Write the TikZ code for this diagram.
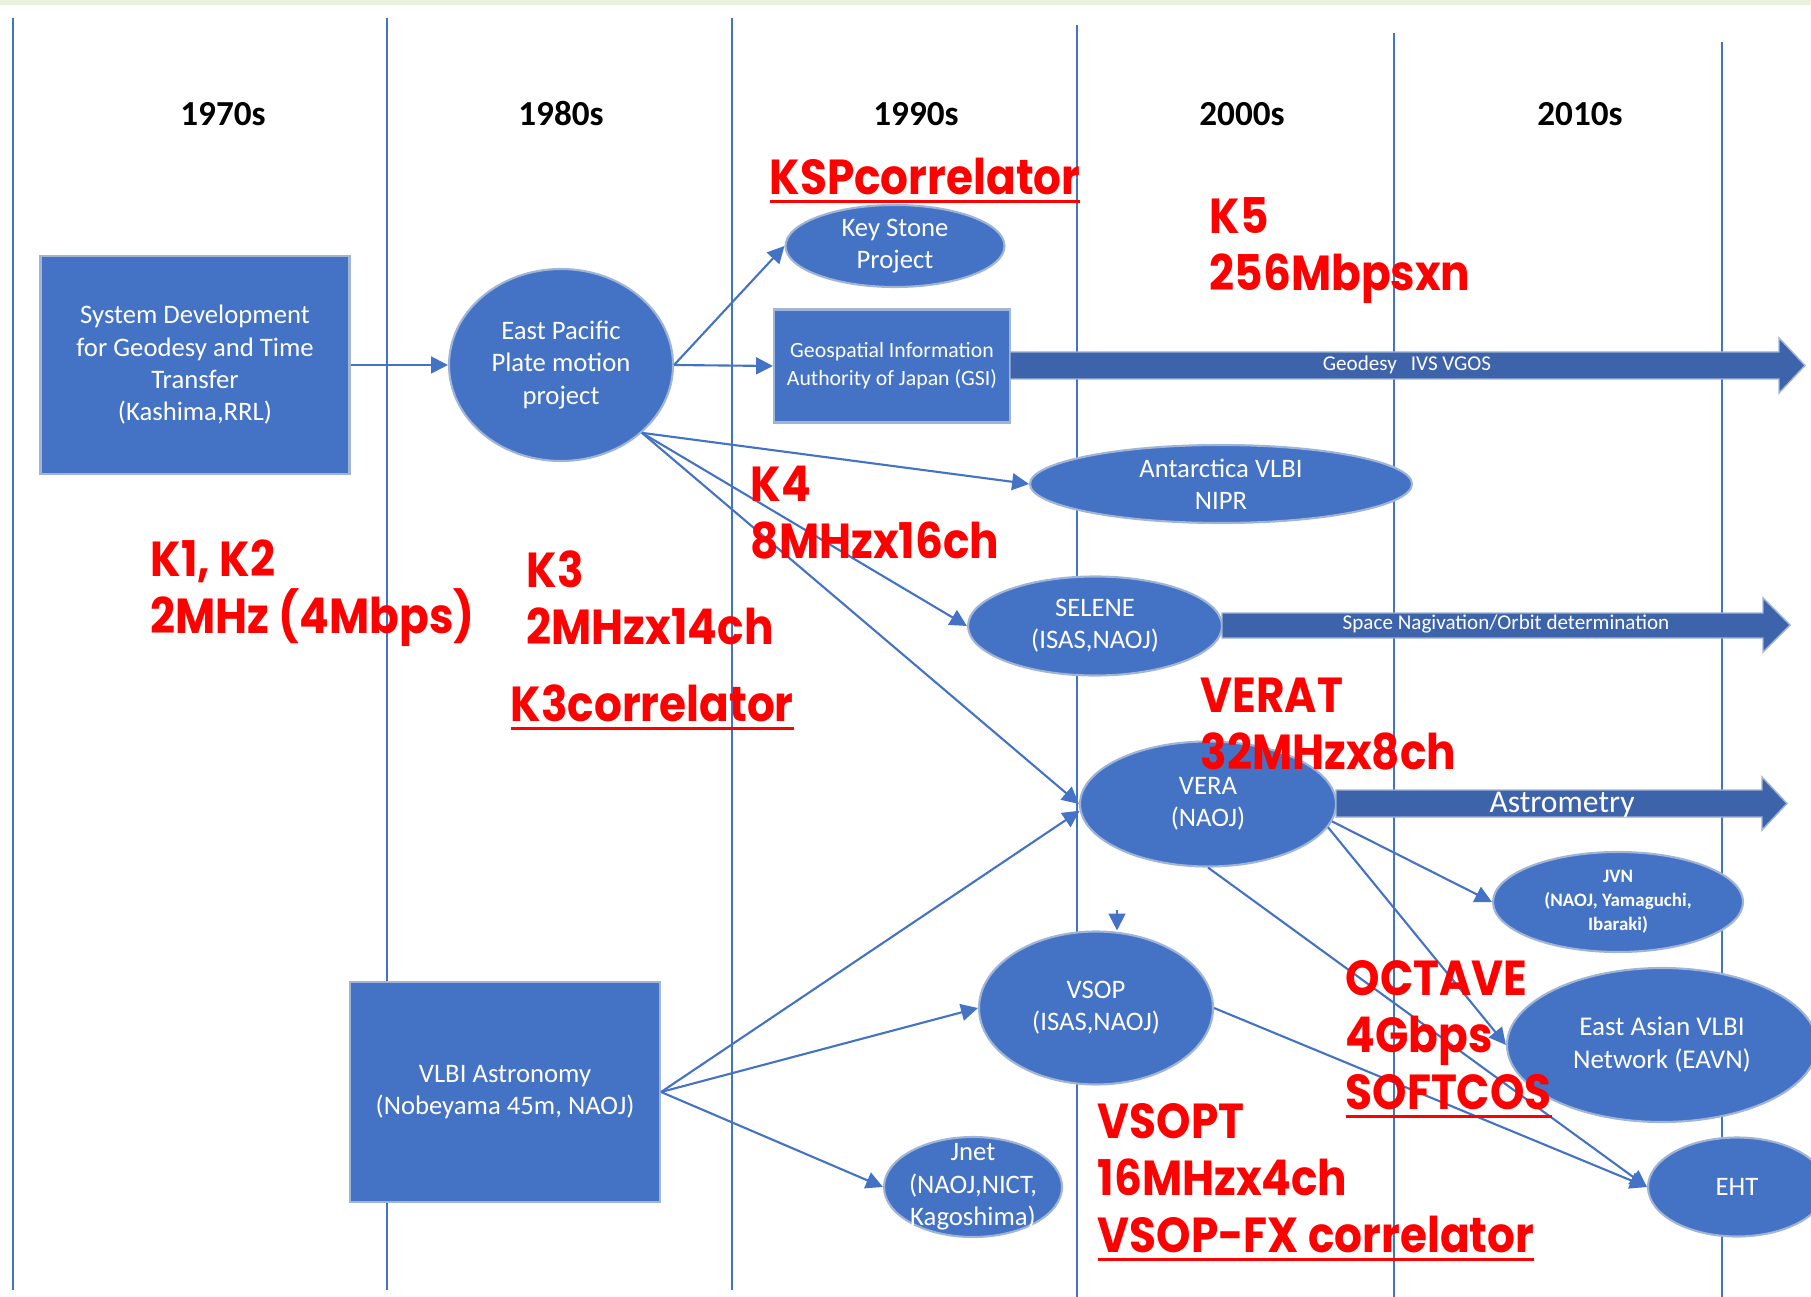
\documentclass[tikz,border=0pt]{standalone}
\usepackage{fontspec}
\setmainfont{Carlito}
\newfontfamily\redfont[FakeStretch=0.89]{Poppins}
\usetikzlibrary{shapes.geometric, arrows.meta}

\definecolor{vlbiblue}{RGB}{68,114,196}
\definecolor{vlbiedge}{RGB}{160,180,214}
\definecolor{vlbidark}{RGB}{61,99,170}
\definecolor{vlbired}{RGB}{255,0,0}
\definecolor{topband}{RGB}{236,241,222}

\newcommand{\redunder}[1]{\setbox0\hbox{#1}\rlap{\rule[-2.4pt]{\wd0}{0.8pt}}\box0}

\tikzset{
	decade/.style={font=\fontsize{10}{12}\selectfont\bfseries},
	box/.style={shape=rectangle, fill=vlbiblue, draw=vlbiedge, line width=0.6pt, text=white, align=center, inner sep=0pt, font=\fontsize{7.6}{9.2}\selectfont},
	blob/.style={box, shape=ellipse},
	blobtext/.style={text=white, align=center, inner sep=0pt, font=\fontsize{7.6}{9.2}\selectfont},
	link/.style={draw=vlbiblue, line width=0.6pt, -{Triangle[length=4.8pt, width=4.8pt]}},
	era/.style={draw=vlbiblue, line width=0.5pt},
	band/.style={fill=vlbidark, draw=vlbiedge, line width=0.4pt},
	bandtext/.style={text=white, inner sep=0pt, font=\fontsize{6}{7}\selectfont},
	note/.style={text=vlbired, anchor=north west, align=left, inner sep=0pt, font=\redfont\bfseries\fontsize{14}{16.2}\selectfont},
}

\begin{document}
\begin{tikzpicture}
	% Paths, nodes and wires:
	\useasboundingbox (0, 0) rectangle (18.11, -12.97);
	\fill[topband] (0, 0) rectangle (18.11, -0.05);
	\draw[era] (0.13, -0.18) -- (0.13, -12.90);
	\draw[era] (3.87, -0.18) -- (3.87, -12.90);
	\draw[era] (7.32, -0.18) -- (7.32, -12.90);
	\draw[era] (10.77, -0.25) -- (10.77, -12.97);
	\draw[era] (13.94, -0.33) -- (13.94, -12.97);
	\draw[era] (17.22, -0.42) -- (17.22, -12.97);
	\node[decade] (d1970) at (2.23, -1.14) {1970s};
	\node[decade] (d1980) at (5.61, -1.14) {1980s};
	\node[decade] (d1990) at (9.16, -1.14) {1990s};
	\node[decade] (d2000) at (12.42, -1.14) {2000s};
	\node[decade] (d2010) at (15.80, -1.14) {2010s};

	\node[box, minimum width=3.09cm, minimum height=2.18cm] (sysdev) at (1.95, -3.65) {System Development\\for Geodesy and Time\\Transfer\\(Kashima,RRL)};
	\node[blob, minimum width=2.24cm, minimum height=1.92cm, label={[blobtext]center:{East Pacific\\Plate motion\\project}}] (epp) at (5.61, -3.65) {};
	\node[blob, minimum width=2.19cm, minimum height=0.82cm, label={[blobtext]center:{Key Stone\\Project}}] (ksp) at (8.95, -2.46) {};
	\node[box, minimum width=2.36cm, minimum height=1.13cm, font=\fontsize{6.2}{8}\selectfont] (gsi) at (8.92, -3.66) {Geospatial Information\\Authority of Japan (GSI)};
	\node[blob, minimum width=3.82cm, minimum height=0.78cm, label={[blobtext]center:{Antarctica VLBI\\NIPR}}] (ant) at (12.21, -4.84) {};
	\node[blob, minimum width=2.54cm, minimum height=0.99cm, label={[blobtext]center:{SELENE\\(ISAS,NAOJ)}}] (selene) at (10.95, -6.26) {};
	\node[blob, minimum width=2.56cm, minimum height=1.25cm, label={[blobtext]center:{VERA\\(NAOJ)}}] (vera) at (12.08, -8.04) {};
	\node[blob, minimum width=2.50cm, minimum height=1.00cm, label={[blobtext, font=\fontsize{5.4}{6.9}\selectfont\bfseries]center:{JVN\\(NAOJ, Yamaguchi,\\Ibaraki)}}] (jvn) at (16.18, -9.02) {};
	\node[blob, minimum width=3.10cm, minimum height=1.54cm, label={[blobtext, font=\fontsize{7.7}{9.4}\selectfont]center:{East Asian VLBI\\Network (EAVN)}}] (eavn) at (16.62, -10.45) {};
	\node[blob, minimum width=1.78cm, minimum height=0.99cm, label={[blobtext]center:{EHT}}] (eht) at (17.37, -11.87) {};
	\node[blob, minimum width=2.34cm, minimum height=1.53cm, label={[blobtext]center:{VSOP\\(ISAS,NAOJ)}}] (vsop) at (10.96, -10.08) {};
	\node[blob, minimum width=1.78cm, minimum height=1.00cm, label={[blobtext]center:{Jnet\\(NAOJ,NICT,\\Kagoshima)}}] (jnet) at (9.73, -11.87) {};
	\node[box, minimum width=3.10cm, minimum height=2.20cm] (vlbi) at (5.05, -10.92) {VLBI Astronomy\\(Nobeyama 45m, NAOJ)};

	\draw[link] (sysdev) -- (epp);
	\draw[link] (epp.east) -- (ksp.west);
	\draw[link] (epp.east) -- (gsi.west);
	\draw[link] (epp.-40) -- (ant.west);
	\draw[link] (epp.-40) -- (selene.west);
	\draw[link] (epp.-40) -- (vera.west);
	\draw[link] (vlbi.east) -- (vera.183);
	\draw[link] (vlbi.east) -- (vsop.west);
	\draw[link] (vlbi.east) -- (jnet.west);
	\draw[link] (vera.-8) -- (jvn.west);
	\draw[link] (vera.-11) -- (eavn.west);
	\draw[link] (vera.south) -- (eht.west);
	\draw[link] (vsop.east) -- (eht.west);
	\coordinate (vsopfeed) at (11.17, -9.10);
	\draw[link] (vsopfeed) -- (vsopfeed |- vsop.north);

	\fill[band] (10.10, -3.52) -- (17.79, -3.52) -- (17.79, -3.38) -- (18.05, -3.655) -- (17.79, -3.93) -- (17.79, -3.79) -- (10.10, -3.79) -- cycle;
	\node[bandtext] (geolbl) at (14.07, -3.65) {Geodesy\hspace{4pt}IVS VGOS};
	\fill[band] (12.22, -6.13) -- (17.63, -6.13) -- (17.63, -5.98) -- (17.90, -6.25) -- (17.63, -6.52) -- (17.63, -6.38) -- (12.22, -6.38) -- cycle;
	\node[bandtext] (spacelbl) at (15.06, -6.24) {Space Nagivation/Orbit determination};
	\fill[band] (13.36, -7.90) -- (17.62, -7.90) -- (17.62, -7.77) -- (17.87, -8.035) -- (17.62, -8.30) -- (17.62, -8.17) -- (13.36, -8.17) -- cycle;
	\node[bandtext, font=\fontsize{9}{11}\selectfont] (astrolbl) at (15.62, -8.05) {Astrometry};

	\node[note] (k12) at (1.50, -5.39) {K1, K2\\2MHz (4Mbps)};
	\node[note] (k3) at (5.26, -5.50) {K3\\2MHzx14ch};
	\node[note] (k3corr) at (5.10, -6.84) {\redunder{K3correlator}};
	\node[note] (kspcorr) at (7.69, -1.57) {\redunder{KSPcorrelator}};
	\node[note] (k5) at (12.09, -1.97) {K5\\256Mbpsxn};
	\node[note] (k4) at (7.50, -4.65) {K4\\8MHzx16ch};
	\node[note] (verat) at (12.00, -6.77) {VERAT\\32MHzx8ch};
	\node[note] (octave) at (13.45, -9.60) {OCTAVE\\4Gbps\\\redunder{SOFTCOS}};
	\node[note] (vsopt) at (10.97, -11.03) {VSOPT\\16MHzx4ch\\\redunder{VSOP-FX correlator}};
\end{tikzpicture}
\end{document}
